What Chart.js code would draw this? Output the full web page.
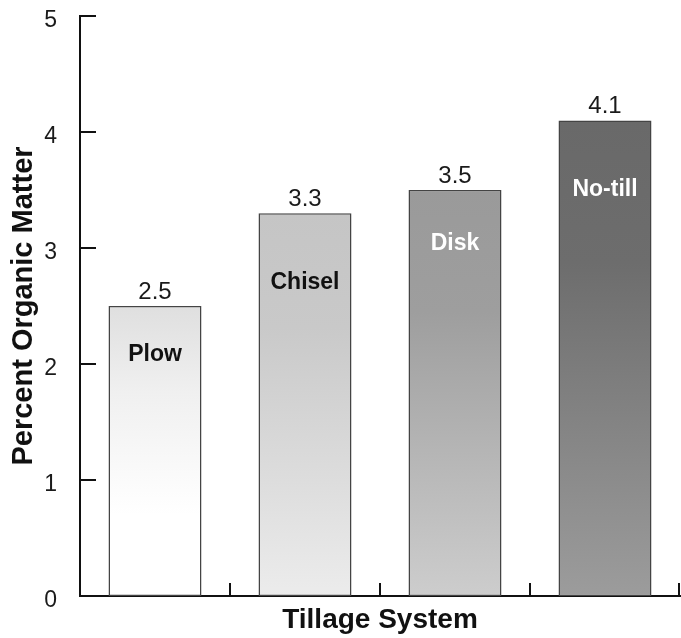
<!DOCTYPE html>
<html>
<head>
<meta charset="utf-8">
<script src="https://cdn.jsdelivr.net/npm/chart.js@4.4.0/dist/chart.umd.min.js"></script>
<style>
  html, body { margin: 0; padding: 0; background: #fff; }
  #wrap { width: 681px; height: 638px; }
</style>
</head>
<body>
<div id="wrap"><canvas id="organic" width="681" height="638"></canvas></div>
<script>
const systems = ["Plow", "Chisel", "Disk", "No-till"];
const organicMatter = [2.5, 3.3, 3.5, 4.1];
const yTicks = [0, 1, 2, 3, 4, 5];

// shading for each bar: bottom, where it turns solid, top
const shades = [
  ["#ffffff", "#f0f0f0", "#dfdfdf"],
  ["#ececec", "#c9c9c9", "#c5c5c5"],
  ["#cdcdcd", "#9e9e9e", "#9a9a9a"],
  ["#9c9c9c", "#6d6d6d", "#696969"],
];
const labelColors = ["#111", "#111", "#fff", "#fff"];
const labelDrop = [49, 69, 54, 69];

const FONT = "'Liberation Sans', Arial, Helvetica, sans-serif";

const barText = {
  id: "barText",
  afterDatasetsDraw(chart) {
    const ctx = chart.ctx;
    const meta = chart.getDatasetMeta(0);
    ctx.save();
    ctx.textAlign = "center";
    meta.data.forEach((bar, i) => {
      ctx.fillStyle = "#1a1a1a";
      ctx.font = "24px " + FONT;
      ctx.textBaseline = "alphabetic";
      ctx.fillText(organicMatter[i].toFixed(1), bar.x, bar.y - 7);
      ctx.fillStyle = labelColors[i];
      ctx.font = "bold 23px " + FONT;
      ctx.textBaseline = "middle";
      ctx.fillText(systems[i], bar.x, bar.y + labelDrop[i]);
    });
    ctx.restore();
  },
};

// tick marks point into the plot
const inwardTicks = {
  id: "inwardTicks",
  afterDraw(chart) {
    const { ctx, scales: { x, y } } = chart;
    ctx.save();
    ctx.strokeStyle = "#111";
    ctx.lineWidth = 2;
    ctx.beginPath();
    yTicks.forEach((v) => {
      const py = y.getPixelForValue(v);
      ctx.moveTo(x.left, py);
      ctx.lineTo(x.left + 16, py);
    });
    const half = (x.getPixelForValue(1) - x.getPixelForValue(0)) / 2;
    systems.forEach((s, i) => {
      const px = Math.min(x.getPixelForValue(i) + half, x.right - 1);
      ctx.moveTo(px, y.bottom);
      ctx.lineTo(px, y.bottom - 13);
    });
    ctx.stroke();
    ctx.restore();
  },
};

const chart = new Chart(document.getElementById("organic").getContext("2d"), {
  type: "bar",
  data: {
    labels: systems,
    datasets: [
      {
        label: "Percent Organic Matter",
        data: organicMatter,
        backgroundColor: function (c) {
          const ch = c.chart;
          const ys = ch.scales.y;
          if (!ys || !ch.chartArea || c.dataIndex === undefined) return "#cccccc";
          const i = c.dataIndex;
          const g = ch.ctx.createLinearGradient(
            0, ys.getPixelForValue(0), 0, ys.getPixelForValue(organicMatter[i])
          );
          g.addColorStop(0, shades[i][0]);
          if (i === 0) g.addColorStop(0.28, shades[i][0]);
          g.addColorStop(0.7, shades[i][1]);
          g.addColorStop(1, shades[i][2]);
          return g;
        },
        borderColor: "#444",
        borderWidth: 1.5,
        borderSkipped: false,
        barPercentage: 0.62,
        categoryPercentage: 1,
      },
    ],
  },
  options: {
    responsive: false,
    animation: false,
    layout: { padding: { top: 16, right: 1, left: 0, bottom: 0 } },
    plugins: {
      legend: { display: false },
      tooltip: { enabled: false },
    },
    scales: {
      x: {
        grid: { display: false },
        border: { display: true, color: "#111", width: 2 },
        ticks: { display: false },
        title: {
          display: true,
          text: "Tillage System",
          color: "#111",
          font: { family: FONT, size: 28, weight: "bold" },
          padding: { top: 0, bottom: 1 },
        },
        afterFit(scale) {
          scale.height = 42;
          scale.paddingLeft = 0;
          scale.paddingRight = 0;
        },
      },
      y: {
        min: 0,
        max: 5,
        grid: { display: false },
        border: { display: true, color: "#111", width: 2 },
        ticks: {
          stepSize: 1,
          color: "#1a1a1a",
          padding: 15,
          labelOffset: 5,
          font: { family: FONT, size: 23 },
        },
        title: {
          display: true,
          text: "Percent Organic Matter",
          color: "#111",
          font: { family: FONT, size: 29, weight: "bold" },
          padding: { top: 7, bottom: 0 },
        },
        afterFit(scale) {
          scale.width = 80;
          scale.paddingTop = 0;
          scale.paddingBottom = 0;
        },
      },
    },
  },
  plugins: [barText, inwardTicks],
});
</script>
</body>
</html>
